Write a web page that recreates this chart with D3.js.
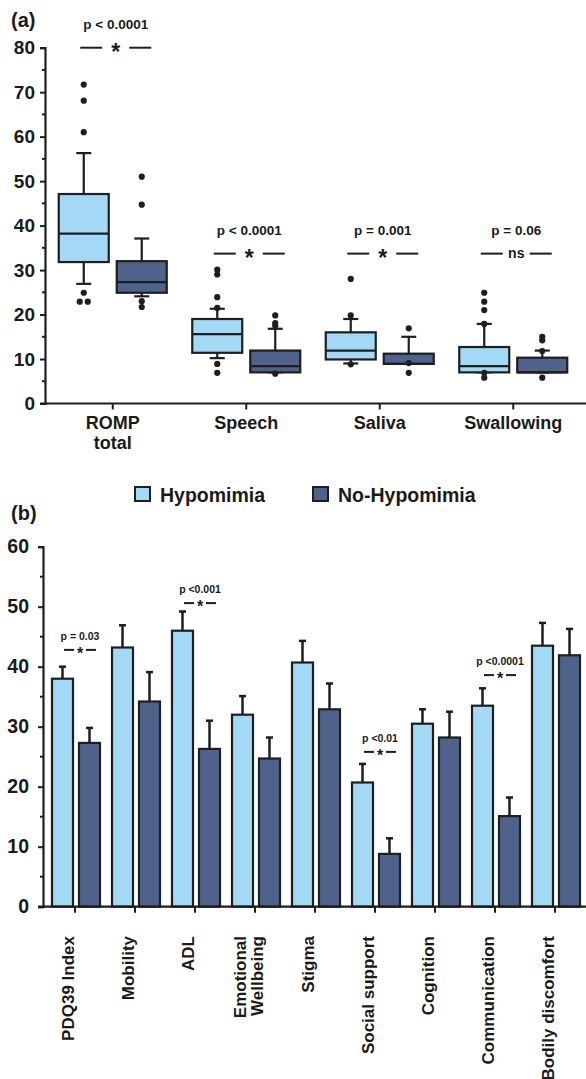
<!DOCTYPE html>
<html>
<meta charset="utf-8">
<head>
<title>ROMP and PDQ39 by hypomimia</title>
<script src="https://d3js.org/d3.v7.min.js"></script>
<style>
  body { margin: 0; background: #fff; }
  text { font-family: "Liberation Sans", Arial, sans-serif; font-weight: bold; fill: #1a1a1a; }
</style>
</head>
<body>
<div id="chart"></div>
<script>

// ---- data: panel (a) boxplots ----
var groupsA = ["ROMP total", "Speech", "Saliva", "Swallowing"];
// whisker low, q1, median, q3, whisker high
var hypoLo  = [26.9, 10.2, 9.0, 7.0];
var hypoQ1  = [31.8, 11.4, 9.9, 7.0];
var hypoMed = [38.2, 15.6, 11.9, 8.4];
var hypoQ3  = [47.1, 19.0, 16.0, 12.7];
var hypoHi  = [56.3, 21.3, 19.0, 17.9];
var hypoOut = [[71.7, 68.1, 61.0, 24.9, 22.9, 22.9], [30.1, 29.0, 23.9, 21.5, 8.9, 6.9], [28.0, 19.8, 8.8], [24.9, 22.9, 21.0, 17.9, 6.9, 5.8]];
var noLo  = [24.1, 7.0, 8.9, 7.0];
var noQ1  = [24.9, 7.0, 8.9, 7.0];
var noMed = [27.3, 8.4, 8.9, 7.0];
var noQ3  = [32.0, 11.9, 11.2, 10.3];
var noHi  = [37.1, 16.8, 15.0, 11.9];
var noOut = [[51.0, 44.7, 23.0, 21.7], [19.8, 18.1, 17.5, 6.7], [16.9, 9.1, 6.9], [15.0, 14.2, 11.8, 5.8]];
var pTextA = ["p < 0.0001", "p < 0.0001", "p = 0.001", "p = 0.06"];
var markA  = ["*", "*", "*", "ns"];
var levelA = [80, 33.7, 33.7, 33.7];
var ticksA = [0, 10, 20, 30, 40, 50, 60, 70, 80];

// ---- data: panel (b) bars ----
var groupsB = ["PDQ39 Index", "Mobility", "ADL", "Emotional\nWellbeing", "Stigma", "Social support", "Cognition", "Communication", "Bodily discomfort"];
var hypoMean = [38.0, 43.2, 46.0, 32.0, 40.7, 20.7, 30.5, 33.5, 43.5];
var hypoSem  = [2.0, 3.7, 3.2, 3.1, 3.6, 3.1, 2.4, 2.9, 3.8];
var noMean   = [27.3, 34.2, 26.3, 24.7, 32.9, 8.8, 28.2, 15.1, 41.9];
var noSem    = [2.5, 4.9, 4.7, 3.5, 4.3, 2.6, 4.3, 3.1, 4.4];
var sigIdxB   = [0, 2, 5, 7];
var pTextB    = ["p = 0.03", "p <0.001", "p <0.01", "p <0.0001"];
var levelB    = [42.8, 50.6, 25.8, 38.6];
var ticksB = [0, 10, 20, 30, 40, 50, 60];

var legendNames = ["Hypomimia", "No-Hypomimia"];

var light = "#a3d9f5", dark = "#4f628b", ink = "#1e1e1e";

var svg = d3.select("#chart").append("svg")
  .attr("width", 586).attr("height", 1079);

// ================= panel (a) =================
var ya = d3.scaleLinear().domain([0, 80]).range([403.5, 47.7]);
var xa = d3.scaleBand().domain(groupsA).range([46, 580]);

svg.append("text").attr("x", 11).attr("y", 27).style("font-size", "20px").text("(a)");

// y axis
var ayA = svg.append("g").attr("transform", "translate(45,0)")
  .call(d3.axisLeft(ya).tickValues(ticksA).tickSize(5).tickPadding(5));
ayA.select(".domain").attr("stroke-width", 2.2).attr("stroke", ink);
ayA.selectAll(".tick line").attr("stroke-width", 2).attr("stroke", ink);
ayA.selectAll(".tick text").style("font-size", "19px").attr("fill", ink).attr("font-family", null);
// minor ticks
svg.append("g").selectAll("line").data(d3.range(5, 80, 10)).enter().append("line")
  .attr("x1", 42).attr("x2", 45).attr("y1", ya).attr("y2", ya)
  .attr("stroke", ink).attr("stroke-width", 2);

// x axis
svg.append("line").attr("x1", 40).attr("x2", 586).attr("y1", ya(0)).attr("y2", ya(0))
  .attr("stroke", ink).attr("stroke-width", 2.2);
svg.append("g").selectAll("line").data(groupsA).enter().append("line")
  .attr("x1", function(d) { return xa(d) + xa.bandwidth() / 2; })
  .attr("x2", function(d) { return xa(d) + xa.bandwidth() / 2; })
  .attr("y1", ya(0)).attr("y2", ya(0) + 6)
  .attr("stroke", ink).attr("stroke-width", 2);
svg.append("g").selectAll("text").data(groupsA).enter().append("text")
  .attr("text-anchor", "middle").style("font-size", "18px")
  .attr("x", function(d) { return xa(d) + xa.bandwidth() / 2; })
  .attr("y", 429)
  .each(function(d) {
    var parts = d === "ROMP total" ? ["ROMP", "total"] : [d];
    var t = d3.select(this);
    parts.forEach(function(p, i) {
      t.append("tspan").attr("x", t.attr("x")).attr("dy", i === 0 ? 0 : 20).text(p);
    });
  });

// boxes
function drawBox(i, offset, lo, q1, med, q3, hi, out, fill) {
  var cx = xa(groupsA[i]) + xa.bandwidth() / 2 + offset;
  var g = svg.append("g");
  var bw = 50, cap = 15;
  g.append("line").attr("x1", cx).attr("x2", cx).attr("y1", ya(hi[i])).attr("y2", ya(q3[i]))
    .attr("stroke", ink).attr("stroke-width", 2.2);
  g.append("line").attr("x1", cx).attr("x2", cx).attr("y1", ya(q1[i])).attr("y2", ya(lo[i]))
    .attr("stroke", ink).attr("stroke-width", 2.2);
  [hi[i], lo[i]].forEach(function(v) {
    g.append("line").attr("x1", cx - cap / 2).attr("x2", cx + cap / 2).attr("y1", ya(v)).attr("y2", ya(v))
      .attr("stroke", ink).attr("stroke-width", 2.2);
  });
  g.append("rect").attr("x", cx - bw / 2).attr("width", bw)
    .attr("y", ya(q3[i])).attr("height", ya(q1[i]) - ya(q3[i]))
    .attr("fill", fill).attr("stroke", ink).attr("stroke-width", 2.2);
  g.append("line").attr("x1", cx - bw / 2).attr("x2", cx + bw / 2).attr("y1", ya(med[i])).attr("y2", ya(med[i]))
    .attr("stroke", ink).attr("stroke-width", 2.2);
  // outliers, equal values spread sideways
  var counts = {};
  out[i].forEach(function(v) { counts[v] = (counts[v] || 0) + 1; });
  var seen = {};
  g.selectAll("circle").data(out[i]).enter().append("circle")
    .attr("cx", function(v) {
      var k = seen[v] = (seen[v] === undefined ? 0 : seen[v] + 1);
      return cx + (k - (counts[v] - 1) / 2) * 8;
    })
    .attr("cy", function(v) { return ya(v); })
    .attr("r", 3.1).attr("fill", ink);
}
for (var i = 0; i < groupsA.length; i++) {
  drawBox(i, -29, hypoLo, hypoQ1, hypoMed, hypoQ3, hypoHi, hypoOut, light);
  drawBox(i, 29, noLo, noQ1, noMed, noQ3, noHi, noOut, dark);
}

// significance marks (a)
groupsA.forEach(function(d, i) {
  var cx = xa(d) + xa.bandwidth() / 2 + 3;
  var ly = ya(levelA[i]);
  var gap = 13.5;
  svg.append("text").attr("x", cx).attr("y", ly - 19).attr("text-anchor", "middle")
    .style("font-size", "13.5px").text(pTextA[i]);
  svg.append("line").attr("x1", cx - gap - 22).attr("x2", cx - gap).attr("y1", ly).attr("y2", ly)
    .attr("stroke", ink).attr("stroke-width", 2);
  svg.append("line").attr("x1", cx + gap).attr("x2", cx + gap + 22).attr("y1", ly).attr("y2", ly)
    .attr("stroke", ink).attr("stroke-width", 2);
  if (markA[i] === "*") {
    svg.append("text").attr("x", cx).attr("y", ly + 12).attr("text-anchor", "middle")
      .style("font-size", "23px").text("*");
  } else {
    svg.append("text").attr("x", cx).attr("y", ly + 4).attr("text-anchor", "middle")
      .style("font-size", "14px").text(markA[i]);
  }
});

// ================= legend =================
var legX = [135, 313];
legendNames.forEach(function(n, i) {
  svg.append("rect").attr("x", legX[i]).attr("y", 487).attr("width", 15).attr("height", 14)
    .attr("fill", i === 0 ? light : dark).attr("stroke", ink).attr("stroke-width", 2);
  svg.append("text").attr("x", legX[i] + 25).attr("y", 502).style("font-size", "19.5px").text(n);
});

// ================= panel (b) =================
var yb = d3.scaleLinear().domain([0, 60]).range([906.7, 546.7]);
var xb = d3.scaleBand().domain(groupsB).range([46, 586]);

svg.append("text").attr("x", 11).attr("y", 520).style("font-size", "20px").text("(b)");

var ayB = svg.append("g").attr("transform", "translate(43,0)")
  .call(d3.axisLeft(yb).tickValues(ticksB).tickSize(5).tickPadding(9));
ayB.select(".domain").attr("stroke-width", 2.2).attr("stroke", ink);
ayB.selectAll(".tick line").attr("stroke-width", 2).attr("stroke", ink);
ayB.selectAll(".tick text").style("font-size", "19.5px").attr("fill", ink).attr("font-family", null);
svg.append("g").selectAll("line").data(d3.range(5, 60, 10)).enter().append("line")
  .attr("x1", 40).attr("x2", 43).attr("y1", yb).attr("y2", yb)
  .attr("stroke", ink).attr("stroke-width", 2);

function gc(d) { return xb(d) + xb.bandwidth() / 2; }

// bars + error bars
var series = [
  { mean: hypoMean, sem: hypoSem, fill: light, off: -24 },
  { mean: noMean, sem: noSem, fill: dark, off: 3 }
];
series.forEach(function(s) {
  var g = svg.append("g");
  g.selectAll("line.err").data(groupsB).enter().append("line")
    .attr("x1", function(d) { return gc(d) + s.off + 10.5; })
    .attr("x2", function(d) { return gc(d) + s.off + 10.5; })
    .attr("y1", function(d, i) { return yb(s.mean[i]); })
    .attr("y2", function(d, i) { return yb(s.mean[i] + s.sem[i]); })
    .attr("stroke", ink).attr("stroke-width", 2.5);
  g.selectAll("line.cap").data(groupsB).enter().append("line")
    .attr("x1", function(d) { return gc(d) + s.off + 7; })
    .attr("x2", function(d) { return gc(d) + s.off + 14; })
    .attr("y1", function(d, i) { return yb(s.mean[i] + s.sem[i]); })
    .attr("y2", function(d, i) { return yb(s.mean[i] + s.sem[i]); })
    .attr("stroke", ink).attr("stroke-width", 2.5);
  g.selectAll("rect").data(groupsB).enter().append("rect")
    .attr("x", function(d) { return gc(d) + s.off; })
    .attr("width", 21)
    .attr("y", function(d, i) { return yb(s.mean[i]); })
    .attr("height", function(d, i) { return yb(0) - yb(s.mean[i]); })
    .attr("fill", s.fill).attr("stroke", ink).attr("stroke-width", 2.2);
});

// x axis (b)
svg.append("line").attr("x1", 38).attr("x2", 586).attr("y1", yb(0)).attr("y2", yb(0))
  .attr("stroke", ink).attr("stroke-width", 2.2);
svg.append("g").selectAll("line").data(groupsB).enter().append("line")
  .attr("x1", function(d) { return gc(d) - 1; }).attr("x2", function(d) { return gc(d) - 1; })
  .attr("y1", yb(0)).attr("y2", yb(0) + 6)
  .attr("stroke", ink).attr("stroke-width", 2);
svg.append("g").selectAll("g").data(groupsB).enter().append("g")
  .attr("transform", function(d) { return "translate(" + (gc(d) - 2) + ",936) rotate(-90)"; })
  .each(function(d) {
    var parts = d.split("\n");
    var g = d3.select(this);
    parts.forEach(function(p, i) {
      g.append("text").attr("text-anchor", "end")
        .attr("y", parts.length > 1 ? (i === 0 ? -8 : 9) : 0)
        .style("font-size", "17px").text(p);
    });
  });

// significance marks (b)
sigIdxB.forEach(function(idx, k) {
  var cx = gc(groupsB[idx]) + 4;
  var ly = yb(levelB[k]);
  svg.append("text").attr("x", cx).attr("y", ly - 10).attr("text-anchor", "middle")
    .style("font-size", "10.5px").text(pTextB[k]);
  svg.append("line").attr("x1", cx - 16).attr("x2", cx - 6).attr("y1", ly).attr("y2", ly)
    .attr("stroke", ink).attr("stroke-width", 2);
  svg.append("line").attr("x1", cx + 6).attr("x2", cx + 16).attr("y1", ly).attr("y2", ly)
    .attr("stroke", ink).attr("stroke-width", 2);
  svg.append("text").attr("x", cx).attr("y", ly + 9).attr("text-anchor", "middle")
    .style("font-size", "16px").text("*");
});

</script>
</body>
</html>
